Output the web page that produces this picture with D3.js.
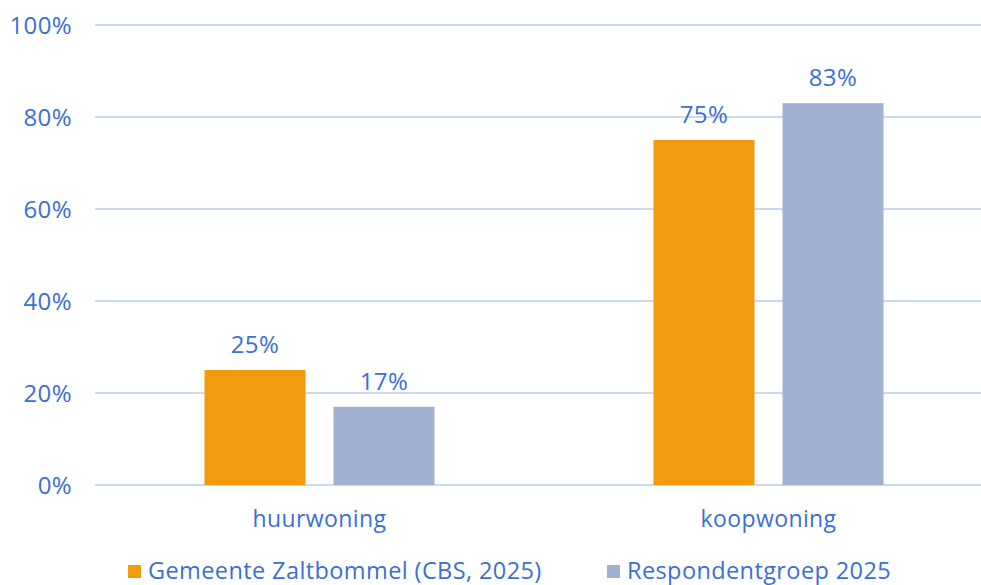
<!DOCTYPE html>
<html>
<meta charset="utf-8">
<style>
    body { margin: 0; background: #fff; }
    text { font-family: "Open Sans", "Noto Sans", sans-serif; fill: #3b6fd6; letter-spacing: 0.4px; }
    .grid line { stroke: #cbd8f3; stroke-width: 2px; }
</style>
<body>
<script src="https://d3js.org/d3.v7.min.js"></script>
<script>
    // data
    var categories = ["huurwoning", "koopwoning"];
    var seriesNames = ["Gemeente Zaltbommel (CBS, 2025)", "Respondentgroep 2025"];
    var gemeente = [25, 75];
    var respondent = [17, 83];
    var yTicks = [0, 20, 40, 60, 80, 100];
    var colors = ["#f49a0e", "#a1b1d2"];

    var width = 981, height = 585;
    var margin = { top: 25, right: -12, bottom: 100, left: 95 };
    var plotW = width - margin.left - margin.right,
        plotH = height - margin.top - margin.bottom;

    var svg = d3.select("body").append("svg")
        .attr("width", width)
        .attr("height", height);

    var g = svg.append("g")
        .attr("transform", "translate(" + margin.left + "," + margin.top + ")");

    // group of two bars: 101px bars with a 28px gap
    var groupW = 230;
    var x0 = d3.scaleBand().domain(categories).range([0, plotW]);
    var x1 = d3.scaleBand().domain([0, 1]).range([0, groupW]).paddingInner(28 / 129);
    var y = d3.scaleLinear().domain([0, 100]).range([plotH, 0]);

    function barX(i, si) {
        return x0(categories[i]) + (x0.bandwidth() - groupW) / 2 + x1(si);
    }

    // gridlines
    g.append("g").attr("class", "grid")
        .selectAll("line").data(yTicks).enter().append("line")
        .attr("x1", 0).attr("x2", plotW)
        .attr("y1", function (d) { return y(d); })
        .attr("y2", function (d) { return y(d); });

    // y tick labels
    g.append("g").selectAll("text").data(yTicks).enter().append("text")
        .attr("x", -23)
        .attr("y", function (d) { return y(d); })
        .attr("dy", "0.36em")
        .attr("text-anchor", "end")
        .style("font-size", "24px")
        .text(function (d) { return d + "%"; });

    var series = [gemeente, respondent];

    series.forEach(function (vals, si) {
        var grp = g.append("g");
        grp.selectAll("rect").data(vals).enter().append("rect")
            .attr("x", function (d, i) { return barX(i, si); })
            .attr("width", x1.bandwidth())
            .attr("y", function (d) { return y(d); })
            .attr("height", function (d) { return plotH - y(d); })
            .attr("fill", colors[si]);

        grp.selectAll("text").data(vals).enter().append("text")
            .attr("x", function (d, i) { return barX(i, si) + x1.bandwidth() / 2; })
            .attr("y", function (d) { return y(d) - 17; })
            .attr("text-anchor", "middle")
            .style("font-size", "24px")
            .text(function (d) { return d + "%"; });
    });

    // category labels
    g.append("g").selectAll("text").data(categories).enter().append("text")
        .attr("x", function (d) { return x0(d) + x0.bandwidth() / 2; })
        .attr("y", plotH + 42)
        .attr("text-anchor", "middle")
        .style("font-size", "23px")
        .text(function (d) { return d; });

    // legend
    var legendX = [128, 607];
    var legend = svg.append("g");
    seriesNames.forEach(function (name, i) {
        legend.append("rect")
            .attr("x", legendX[i]).attr("y", 565)
            .attr("width", 13).attr("height", 13)
            .attr("fill", colors[i]);
        legend.append("text")
            .attr("x", legendX[i] + 20).attr("y", 579)
            .style("font-size", "23.5px")
            .text(name);
    });
</script>
</body>
</html>
